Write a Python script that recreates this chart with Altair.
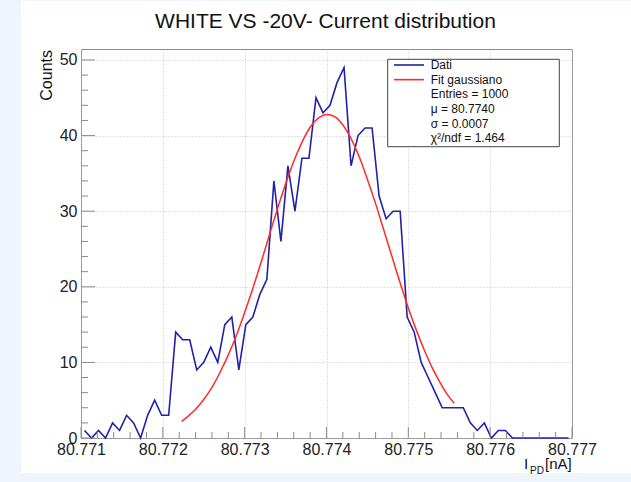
import altair as alt
import pandas as pd

# ---- histogram of the photodiode current (70 bins, 80.771 .. 80.777 nA) ----
x_lo = 80.771
x_hi = 80.777
n_bins = 70
counts = [1, 0, 1, 0, 2, 1, 3, 2, 0, 3, 5, 3, 3,
          14, 13, 13, 9, 10, 12, 10,
          15, 16, 9, 15, 16, 19, 21,
          34, 26, 36, 30, 37, 37,
          45, 43, 44, 47, 49,
          36, 40, 41, 41, 32, 29, 30, 30,
          16, 14, 10, 8, 6,
          4, 4, 4, 4,
          2, 1, 2, 0, 1, 1, 0,
          0, 0, 0, 0, 0, 0, 0, 0]
bin_width = (x_hi - x_lo) / n_bins
bin_centers = [x_lo + (i + 0.5) * bin_width for i in range(n_bins)]

# ---- gaussian fit curve, sampled over the fit range ----
fit_x = [80.77223, 80.7723, 80.7724, 80.7725, 80.7726, 80.7727, 80.7728, 80.7729,
         80.7730, 80.7731, 80.7732, 80.7733, 80.7734, 80.7735, 80.7736, 80.7737,
         80.7738, 80.7739, 80.7740, 80.7741, 80.7742, 80.7743, 80.7744, 80.7745,
         80.7746, 80.7747, 80.7748, 80.7749, 80.7750, 80.7751, 80.7752, 80.7753,
         80.7754, 80.7755, 80.77556]
fit_y = [2.2, 2.8, 3.8, 5.1, 6.7, 8.7, 11.0, 13.6,
         16.6, 19.8, 23.2, 26.8, 30.3, 33.6, 36.6, 39.1,
         41.1, 42.3, 42.8, 42.5, 41.4, 39.6, 37.2, 34.2,
         31.0, 27.5, 24.0, 20.5, 17.2, 14.2, 11.5, 9.1,
         7.1, 5.4, 4.6]

# ---- axes ----
y_max = 51.45
x_major = [80.771, 80.772, 80.773, 80.774, 80.775, 80.776, 80.777]
x_minor = [round(x_lo + 0.0002 * k, 4) for k in range(31) if k % 5]
y_major = [0, 10, 20, 30, 40, 50]
y_minor = [v for v in range(0, 52, 2) if v % 10]

title_text = "WHITE VS -20V- Current distribution"
y_title = "Counts"
legend_series = ["Dati", "Fit gaussiano"]
legend_stats = ["Entries = 1000", "\u03bc = 80.7740", "\u03c3 = 0.0007", "\u03c7\u00b2/ndf = 1.464"]

W, H = 491, 389
FONT = "Liberation Sans"
BLUE = "#2222a8"
RED = "#ff2b2b"
PAGE = "#eef5fc"
TICK = "#8a8a8a"

xscale = alt.Scale(domain=[x_lo, x_hi], nice=False, zero=False)
yscale = alt.Scale(domain=[0, y_max], nice=False, zero=False)

hist_df = pd.DataFrame({"x": bin_centers, "count": counts})
fit_df = pd.DataFrame({"x": fit_x, "y": fit_y})
one = pd.DataFrame({"k": [0]})


# page strips around the white canvas
def strip(x1, x2, y1, y2):
    return alt.Chart(one).mark_rect(fill=PAGE).encode(
        x=alt.value(x1), x2=alt.value(x2), y=alt.value(y1), y2=alt.value(y2))


strips = [strip(-81, -60, -49, 433), strip(-81, 550, 424, 433), strip(-81, 550, -49, -48)]

# the shared axes (labels + dotted grid) are defined once, on the data layer
data_line = alt.Chart(hist_df).mark_line(color=BLUE, strokeWidth=1.6).encode(
    x=alt.X("x:Q", scale=xscale,
            axis=alt.Axis(values=x_major, format=".3f", grid=True, gridColor="#c4c4c4",
                          gridDash=[1, 2], ticks=False, tickSize=0, domain=False,
                          labelFontSize=16, labelPadding=3, labelColor="#222222",
                          labelFont=FONT, title=None, labelFlush=False,
                          labelOverlap=False)),
    y=alt.Y("count:Q", scale=yscale,
            axis=alt.Axis(values=y_major, format="d", grid=True, gridColor="#c4c4c4",
                          gridDash=[1, 2], ticks=False, tickSize=0, domain=False,
                          labelFontSize=16, labelPadding=4, labelColor="#222222",
                          labelFont=FONT, title=None, labelOverlap=False)),
)

fit_line = alt.Chart(fit_df).mark_line(color=RED, strokeWidth=1.5, interpolate="monotone").encode(
    x=alt.X("x:Q", scale=xscale),
    y=alt.Y("y:Q", scale=yscale),
)


# inward ticks, as drawn by ROOT
def y_ticks(values, length):
    return alt.Chart(pd.DataFrame({"v": values})).mark_rule(color=TICK, strokeWidth=1).encode(
        y=alt.Y("v:Q", scale=yscale), x=alt.value(0), x2=alt.value(length))


def x_ticks(values, length):
    return alt.Chart(pd.DataFrame({"v": values})).mark_rule(color=TICK, strokeWidth=1).encode(
        x=alt.X("v:Q", scale=xscale), y=alt.value(H), y2=alt.value(H - length))


ticks = [y_ticks(y_major, 14), y_ticks(y_minor, 7), x_ticks(x_major, 11), x_ticks(x_minor, 6)]


def label(text, x, y, size, align="left", baseline="alphabetic", angle=0, color="#111111"):
    kw = dict(text=text, font=FONT, fontSize=size, align=align, baseline=baseline, color=color)
    if angle:
        kw["angle"] = angle
    return alt.Chart(one).mark_text(**kw).encode(x=alt.value(x), y=alt.value(y))


texts = [
    label(title_text, 244.5, -21, 21, align="center"),
    label(y_title, -29.5, 1, 16, align="right", angle=270),
    label("I", 443, 419.5, 15),
    label("PD", 449, 424.5, 10),
    label("[nA]", 490.7, 419.5, 15, align="right"),
]

# legend box
lx1, lx2, ly1, ly2 = 306.7, 478.3, 10.3, 97.7
legend_layers = [
    alt.Chart(one).mark_rect(fill="white", stroke="#444444", strokeWidth=1).encode(
        x=alt.value(lx1), x2=alt.value(lx2), y=alt.value(ly1), y2=alt.value(ly2)),
]
row_y0, row_step = 16, 14.65
for k, (name, col) in enumerate(zip(legend_series, [BLUE, RED])):
    yy = row_y0 + k * row_step
    legend_layers.append(alt.Chart(one).mark_rule(color=col, strokeWidth=1.6).encode(
        x=alt.value(313), x2=alt.value(343), y=alt.value(yy)))
    legend_layers.append(label(name, 349.7, yy, 12, baseline="middle"))
for k, line in enumerate(legend_stats):
    yy = row_y0 + (k + 2) * row_step
    legend_layers.append(label(line, 349.7, yy, 12, baseline="middle"))

chart = alt.layer(
    data_line, *strips, fit_line, *ticks, *texts, *legend_layers
).properties(
    width=W, height=H,
    padding={"left": 81, "top": 49, "right": 59, "bottom": 44},
    autosize=alt.AutoSizeParams(type="none"),
).configure(
    background="white",
).configure_view(
    stroke="#8a8a8a", strokeWidth=1,
)

chart.save("out.html", embed_options={"renderer": "svg", "actions": False})
